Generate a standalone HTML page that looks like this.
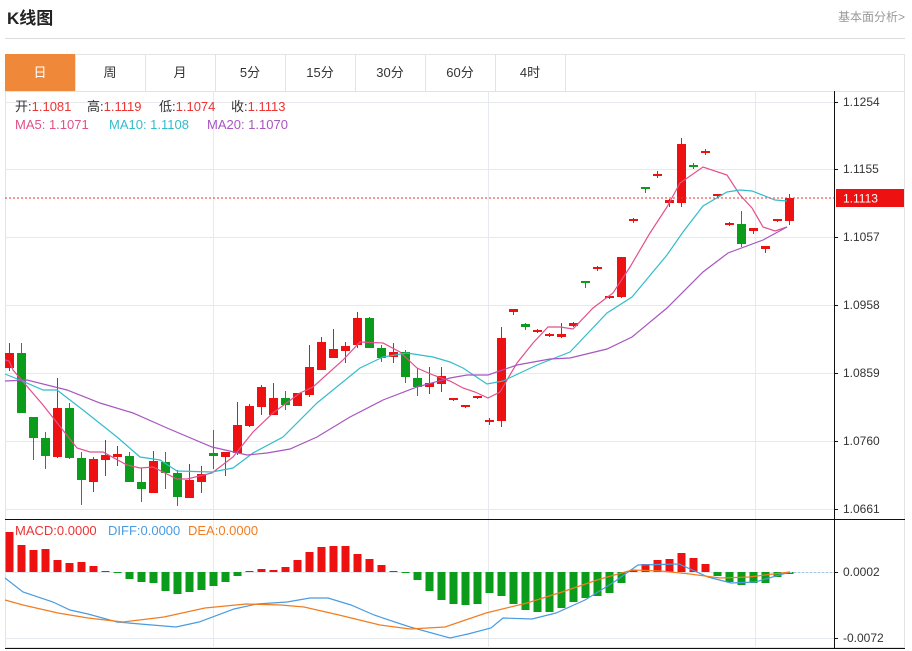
<!DOCTYPE html>
<html><head><meta charset="utf-8">
<style>
body{margin:0;background:#fff;width:912px;height:651px;overflow:hidden;font-family:"Liberation Sans","Noto Sans CJK SC",sans-serif;}
#wrap{position:relative;width:912px;height:651px;}
</style></head>
<body><div id="wrap">
<svg id="s" width="912" height="651" xmlns="http://www.w3.org/2000/svg" style="position:absolute;left:0;top:0;font-family:'Liberation Sans','Noto Sans CJK SC',sans-serif">
<text x="7" y="24" font-size="17" font-weight="bold" fill="#222">K线图</text>
<text x="905" y="21" font-size="12" fill="#999" text-anchor="end">基本面分析&gt;</text>
<line x1="5" y1="38.5" x2="905" y2="38.5" stroke="#ddd"/>
<rect x="5.5" y="54.5" width="899" height="593" fill="none" stroke="#e3e3e3"/>
<line x1="5" y1="91.5" x2="905" y2="91.5" stroke="#e3e3e3"/>
<rect x="5" y="54" width="70" height="37" fill="#f0883a"/>
<g font-size="13" fill="#333" text-anchor="middle">
<text x="40" y="77" fill="#fff">日</text><text x="110" y="77">周</text><text x="180" y="77">月</text><text x="250" y="77">5分</text><text x="320" y="77">15分</text><text x="390" y="77">30分</text><text x="460" y="77">60分</text><text x="530" y="77">4时</text>
</g>
<g stroke="#e3e3e3"><line x1="75.5" y1="54" x2="75.5" y2="91"/><line x1="145.5" y1="54" x2="145.5" y2="91"/><line x1="215.5" y1="54" x2="215.5" y2="91"/><line x1="285.5" y1="54" x2="285.5" y2="91"/><line x1="355.5" y1="54" x2="355.5" y2="91"/><line x1="425.5" y1="54" x2="425.5" y2="91"/><line x1="495.5" y1="54" x2="495.5" y2="91"/><line x1="565.5" y1="54" x2="565.5" y2="91"/></g>
<g id="grid" stroke="#e6eaef"></g>
<g id="cdl"></g>
<g id="ma" fill="none" stroke-width="1.2"></g>
<line x1="5" y1="198" x2="834" y2="198" stroke="#e33" stroke-dasharray="2,2"/>
<line x1="5" y1="519.5" x2="905" y2="519.5" stroke="#111"/>
<line x1="5" y1="648.5" x2="905" y2="648.5" stroke="#111"/>
<line x1="834.5" y1="91" x2="834.5" y2="648" stroke="#111"/>
<g id="axis" font-size="12" fill="#333"></g>
<rect x="836" y="189" width="68" height="18" fill="#ee1111"/>
<text x="843" y="202.5" font-size="12" fill="#fff">1.1113</text>
<g font-size="13">
<text x="15" y="111" fill="#333">开:<tspan fill="#e33">1.1081</tspan></text>
<text x="87" y="111" fill="#333">高:<tspan fill="#e33">1.1119</tspan></text>
<text x="159" y="111" fill="#333">低:<tspan fill="#e33">1.1074</tspan></text>
<text x="231" y="111" fill="#333">收:<tspan fill="#e33">1.1113</tspan></text>
<text x="15" y="129" fill="#e2508a">MA5: 1.1071</text>
<text x="109" y="129" fill="#33bccc">MA10: 1.1108</text>
<text x="207" y="129" fill="#a855c0">MA20: 1.1070</text>
<text x="15" y="535" fill="#e33">MACD:0.0000</text>
<text x="108" y="535" fill="#4a9be0">DIFF:0.0000</text>
<text x="188" y="535" fill="#f07d22">DEA:0.0000</text>
</g>
<g id="macd"></g>
</svg>
<script>
var NS="http://www.w3.org/2000/svg";
function el(p,t,a){var e=document.createElementNS(NS,t);for(var k in a)e.setAttribute(k,a[k]);document.getElementById(p).appendChild(e);return e;}
[102,169,237,305,373,441,509,572,638].forEach(function(y){el("grid","line",{x1:5,x2:834,y1:y+.5,y2:y+.5});});
[213,488,755].forEach(function(x){el("grid","line",{x1:x+.5,x2:x+.5,y1:91,y2:648});});
[[102,"1.1254"],[169,"1.1155"],[237,"1.1057"],[305,"1.0958"],[373,"1.0859"],[441,"1.0760"],[509,"1.0661"],[572,"0.0002"],[638,"-0.0072"]].forEach(function(a){
 el("axis","line",{x1:834,x2:838,y1:a[0]+.5,y2:a[0]+.5,stroke:"#111"});
 var t=el("axis","text",{x:843,y:a[0]+4});t.textContent=a[1];});
var C=[[353,368,343,371,'r'],[353,413,343,413,'g'],[417,438,417,460,'g'],[438,456,432,469,'g'],[408,457,378,458,'r'],[408,458,403,459,'g'],[458,480,452,505,'g'],[459,482,457,492,'r'],[455,460,440,476,'r'],[454,457,446,466,'r'],
[456,482,452,482,'g'],[482,489,468,502,'g'],[461,493,451,493,'r'],[462,473,452,489,'g'],[473,497,470,506,'g'],[480,498,464,498,'r'],[474,482,466,493,'r'],[453,456,430,469,'g'],[452,457,452,476,'r'],[425,453,402,455,'r'],
[406,426,404,427,'r'],[387,407,385,415,'r'],[398,415,383,415,'r'],[398,405,391,410,'g'],[393,406,393,406,'r'],[367,395,345,397,'r'],[342,370,337,370,'r'],[349,358,329,358,'r'],[346,351,342,363,'r'],[318,345,312,348,'r'],
[318,348,317,348,'g'],[348,358,345,362,'g'],[352,357,343,363,'r'],[352,377,350,383,'g'],[378,387,368,396,'g'],[383,387,367,394,'r'],[376,384,367,392,'r'],[398,400,398,401,'r'],[405,407,405,408,'r'],[396,398,396,399,'r'],
[420,422,418,425,'r'],[338,421,327,427,'r'],[309,312,309,315,'r'],[324,327,323,330,'g'],[330,332,329,333,'r'],[334,336,333,337,'r'],[334,337,323,338,'r'],[323,326,322,327,'r'],[281,283,281,288,'g'],[267,269,266,271,'r'],
[296,297,295,299,'r'],[257,297,257,298,'r'],[219,221,218,223,'r'],[187,189,187,193,'g'],[174,176,171,178,'r'],[200,203,199,207,'r'],[144,203,138,207,'r'],[165,167,163,169,'g'],[151,153,149,155,'r'],[194,196,194,197,'r'],
[223,225,222,226,'r'],[224,244,211,247,'g'],[228,231,228,234,'r'],[246,249,246,253,'r'],[219,221,219,222,'r'],[198,221,194,225,'r']];
var M=[532,545,550,549,560,563,562,566,571,572,579,582,583,591,594,592,590,586,582,576,571,569,570,567,560,552,547,546,546,554,559,565,571,573,580,591,600,604,605,604,593,596,604,610,612,612,608,602,598,596,593,583,570,564,560,559,553,558,564,576,582,585,583,583,577,574];
C.forEach(function(c,i){var x=9+12*i,col=c[4]=='r'?'#ee1111':'#0a9c1a';
 el("cdl","line",{x1:x+.5,x2:x+.5,y1:c[2],y2:c[3],stroke:col});
 el("cdl","rect",{x:x-4,y:c[0],width:9,height:Math.max(2,c[1]-c[0]),fill:col});
 var m=M[i],z=572,mc=m<z?'#ee1111':'#0a9c1a';
 el("macd","rect",{x:x-3.5,y:Math.min(m,z),width:8,height:Math.max(1,Math.abs(m-z)),fill:mc});
});
el("macd","line",{x1:790,x2:834,y1:572.5,y2:572.5,stroke:"#9cc8e8","stroke-dasharray":"2,2"});
function pl(g,pts,col){el(g,"polyline",{points:pts,stroke:col,fill:"none","stroke-width":1.2});}
pl("ma","5,360 9,361 13,370 43,405 77,448 90,452 103,452 127,465 140,468 153,467 177,479 187,479 212,473 233,457 253,432 273,413 300,393 313,387 343,360 360,342 383,343 400,352 417,368 433,375 450,381 463,388 475,392 488,398 500,392 517,363 533,343 548,327 560,327 573,329 593,308 613,293 630,267 650,233 667,207 680,183 703,167 727,175 740,195 752,208 763,227 775,231 787,227","#e2508a");
pl("ma","5,374 20,380 43,390 57,390 83,410 117,437 140,457 160,460 177,471 212,472 233,468 253,453 283,437 317,403 360,368 383,357 407,353 433,357 450,362 463,368 487,384 503,381 537,365 570,352 607,313 632,297 667,255 683,232 703,206 727,192 740,190 752,191 775,200 787,201","#33bccc");
pl("ma","5,381 27,380 67,390 100,403 133,413 167,428 212,447 247,455 267,453 290,449 317,437 350,417 383,400 417,387 450,378 467,375 488,375 517,365 550,359 570,358 607,349 632,337 667,308 703,272 728,253 763,240 787,227","#a855c0");
pl("macd","5,578 23,592 53,602 70,610 88,614 117,622 140,624 176,627 199,622 234,609 257,604 287,602 310,598 328,598 351,605 374,615 410,627 450,638 468,634 491,628 503,618 532,619 556,613 585,600 614,582 638,565 679,564 708,577 731,583 755,582 790,572","#4a9be0");
pl("macd","5,600 23,605 58,613 88,618 123,622 164,617 205,608 246,604 281,605 304,607 339,615 380,625 410,629 445,627 486,613 527,603 562,592 597,580 632,570 661,571 690,574 720,578 749,577 790,572","#f07d22");
</script>
</div></body></html>
